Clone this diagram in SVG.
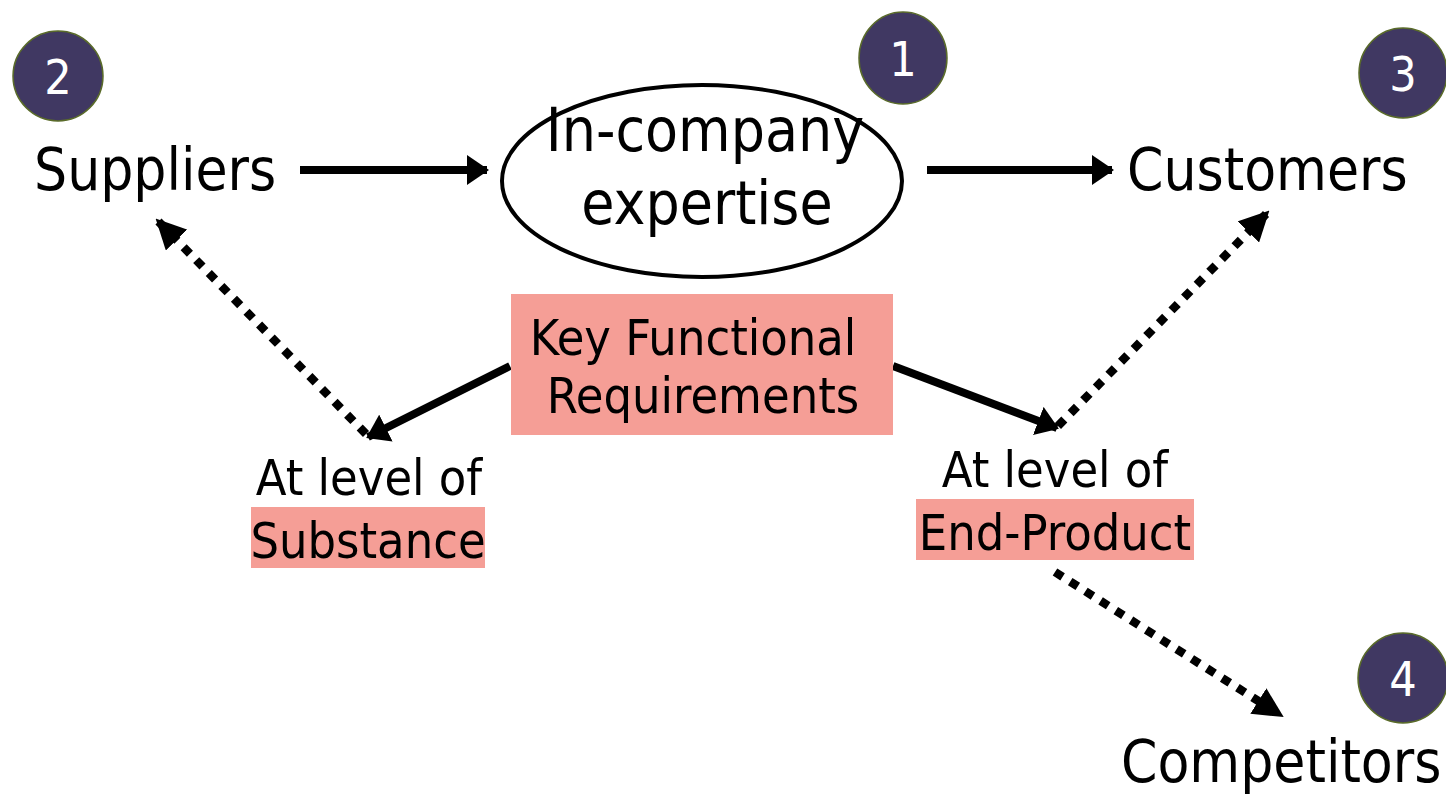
<svg xmlns="http://www.w3.org/2000/svg" width="1446" height="794" viewBox="0 0 1446 794">
  <style>
    .lbl { font-family: "DejaVu Sans Condensed", "DejaVu Sans", sans-serif; fill: #000; }
    .big { font-size: 58px; }
    .ell { font-size: 60px; }
    .mid { font-size: 50px; }
    .num { font-family: "DejaVu Sans Condensed", "DejaVu Sans", sans-serif; font-size: 48px; fill: #fff; text-anchor: middle; }
    .badge { fill: #403862; stroke: #5a6b2a; stroke-width: 1.5; }
    .hl { fill: #f59e96; }
    .solid { stroke: #000; stroke-width: 8; fill: none; }
    .dots { stroke: #000; stroke-width: 8.5; fill: none; stroke-dasharray: 9 9; }
  </style>
  <defs>
    <!-- filled triangular arrowheads, sized in user units -->
    <marker id="head" viewBox="0 0 22 30" refX="20" refY="15" markerWidth="22" markerHeight="30" orient="auto" markerUnits="userSpaceOnUse">
      <path d="M0,0 L22,15 L0,30 z" fill="#000"/>
    </marker>
    <marker id="headDot" viewBox="0 0 30 30" refX="28" refY="15" markerWidth="30" markerHeight="30" orient="auto" markerUnits="userSpaceOnUse">
      <path d="M0,0 L30,15 L0,30 z" fill="#000"/>
    </marker>
  </defs>

  <rect width="1446" height="794" fill="#fff"/>

  <g id="connectors">
    <line class="solid" x1="300" y1="170" x2="487" y2="170" marker-end="url(#head)"/>
    <line class="solid" x1="927" y1="170" x2="1112" y2="170" marker-end="url(#head)"/>
    <line class="solid" x1="510" y1="366" x2="368" y2="437" marker-end="url(#head)"/>
    <line class="solid" x1="893" y1="366" x2="1057" y2="428" marker-end="url(#head)"/>
    <line class="dots" x1="366" y1="434" x2="157" y2="220" marker-end="url(#headDot)"/>
    <line class="dots" x1="1058" y1="426" x2="1268" y2="212" marker-end="url(#headDot)"/>
    <line class="dots" x1="1055" y1="572" x2="1282" y2="716" marker-end="url(#headDot)"/>
  </g>

  <g id="suppliers">
    <text class="lbl big" x="34" y="190">Suppliers</text>
  </g>

  <g id="expertise">
    <ellipse cx="702" cy="181" rx="200" ry="96" fill="#fff" stroke="#000" stroke-width="4"/>
    <text class="lbl ell" x="705" y="151" text-anchor="middle">In-company</text>
    <text class="lbl ell" x="707" y="224" text-anchor="middle">expertise</text>
  </g>

  <g id="customers">
    <text class="lbl big" x="1127" y="190">Customers</text>
  </g>

  <g id="requirements">
    <rect class="hl" x="511" y="294" width="382" height="141"/>
    <text class="lbl mid" x="693" y="355" text-anchor="middle">Key Functional</text>
    <text class="lbl mid" x="703" y="413" text-anchor="middle">Requirements</text>
  </g>

  <g id="substance">
    <rect class="hl" x="251" y="507" width="234" height="61"/>
    <text class="lbl mid" x="369" y="495" text-anchor="middle">At level of</text>
    <text class="lbl mid" x="368" y="558" text-anchor="middle">Substance</text>
  </g>

  <g id="end-product">
    <rect class="hl" x="916" y="499" width="278" height="61"/>
    <text class="lbl mid" x="1055" y="487" text-anchor="middle">At level of</text>
    <text class="lbl mid" x="1055" y="550" text-anchor="middle">End-Product</text>
  </g>

  <g id="competitors">
    <text class="lbl big" x="1121" y="782">Competitors</text>
  </g>

  <g id="badge-1">
    <ellipse class="badge" cx="903" cy="58" rx="44" ry="46"/>
    <text class="num" x="903" y="76">1</text>
  </g>
  <g id="badge-2">
    <circle class="badge" cx="58" cy="76" r="45"/>
    <text class="num" x="58" y="94">2</text>
  </g>
  <g id="badge-3">
    <ellipse class="badge" cx="1403" cy="73" rx="44" ry="45"/>
    <text class="num" x="1403" y="91">3</text>
  </g>
  <g id="badge-4">
    <circle class="badge" cx="1403" cy="678" r="45"/>
    <text class="num" x="1403" y="696">4</text>
  </g>
</svg>
